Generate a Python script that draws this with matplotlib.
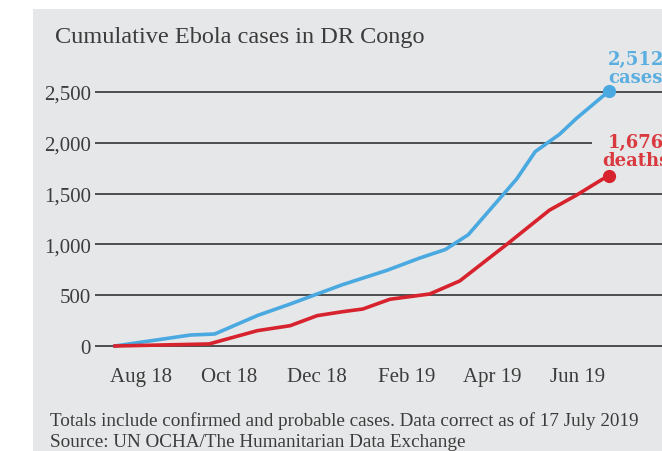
import matplotlib
matplotlib.use("Agg")
import matplotlib.pyplot as plt
import matplotlib.dates as mdates
import pandas as pd
from matplotlib.patches import Rectangle

# Cumulative cases
case_dates = ["2018-08-01", "2018-09-23", "2018-10-10", "2018-11-09", "2018-12-02",
              "2018-12-21", "2019-01-08", "2019-02-08", "2019-03-03", "2019-03-21",
              "2019-04-06", "2019-05-10", "2019-05-23", "2019-06-09", "2019-06-21",
              "2019-07-14"]
case_values = [0, 108, 118, 300, 413, 512, 605, 745, 866, 950, 1095, 1644, 1913,
               2083, 2241, 2512]

# Cumulative deaths
death_dates = ["2018-08-01", "2018-10-06", "2018-11-09", "2018-12-02", "2018-12-21",
               "2019-01-08", "2019-01-22", "2019-02-10", "2019-03-10", "2019-03-31",
               "2019-05-03", "2019-06-02", "2019-06-21", "2019-07-09", "2019-07-14"]
death_values = [0, 20, 151, 200, 299, 338, 364, 460, 512, 640, 1000, 1337, 1485,
                1640, 1676]

tick_dates = ["2018-08-19", "2018-10-20", "2018-12-21", "2019-02-22", "2019-04-23",
              "2019-06-22"]
tick_labels = ["Aug 18", "Oct 18", "Dec 18", "Feb 19", "Apr 19", "Jun 19"]
y_ticks = [0, 500, 1000, 1500, 2000, 2500]

title = "Cumulative Ebola cases in DR Congo"
note = ("Totals include confirmed and probable cases. Data correct as of 17 July 2019\n"
        "Source: UN OCHA/The Humanitarian Data Exchange")

BLUE = "#49a9e0"
RED = "#d7232d"
BG = "#e6e7e8"
INK = "#3c3c3c"
FONT = "Liberation Serif"
LABEL_FONT = "DejaVu Serif"

W, H = 662, 452
fig = plt.figure(figsize=(W / 100, H / 100), dpi=100)
fig.patch.set_facecolor("white")

# grey panel behind everything
fig.patches.append(Rectangle((33 / W, 0), 1 - 33 / W, 1 - 10 / H,
                             transform=fig.transFigure, facecolor=BG,
                             edgecolor="none", zorder=-5))

ax = fig.add_axes([95 / W, (H - 347) / H, (W - 95) / W, 254 / H])
ax.set_facecolor("none")
ax.set_zorder(1)
for s in ax.spines.values():
    s.set_visible(False)

cd = pd.to_datetime(case_dates)
dd = pd.to_datetime(death_dates)
start = pd.Timestamp("2018-08-01")
ax.set_xlim(start - pd.Timedelta(days=14), start + pd.Timedelta(days=384))
ax.set_ylim(0, 2500)

# gridlines; the 2,000 line stops short to leave room for the deaths label
x0, x1 = ax.get_xlim()
for v in y_ticks:
    end = x1 if v != 2000 else mdates.date2num(start) + (592 - 115) / 1.425
    ax.hlines(v, x0, end, color="#333333", lw=1.2, zorder=1, clip_on=False)

ax.plot(cd, case_values, color=BLUE, lw=2.6, solid_joinstyle="round", zorder=3,
        clip_on=False)
ax.plot(dd, death_values, color=RED, lw=2.6, solid_joinstyle="round", zorder=3,
        clip_on=False)
ax.plot(cd[-1:], case_values[-1:], "o", color=BLUE, ms=8.5, zorder=4, clip_on=False)
ax.plot(dd[-1:], death_values[-1:], "o", color=RED, ms=8.5, zorder=4, clip_on=False)

ax.annotate(f"{case_values[-1]:,}\ncases", (cd[-1], case_values[-1]),
            xytext=(19, 6.5), textcoords="offset points", ha="center", va="baseline",
            color="#5aaee0", fontsize=13, fontweight="bold", family=LABEL_FONT,
            linespacing=0.95, annotation_clip=False)
ax.annotate(f"{death_values[-1]:,}\ndeaths", (dd[-1], death_values[-1]),
            xytext=(19, 8), textcoords="offset points", ha="center", va="baseline",
            color="#d93a40", fontsize=13, fontweight="bold", family=LABEL_FONT,
            linespacing=0.95, annotation_clip=False)

ax.set_yticks(y_ticks)
ax.set_yticklabels([f"{v:,}" for v in y_ticks], family=FONT, fontsize=15, color=INK)
ax.set_xticks(pd.to_datetime(tick_dates))
ax.set_xticklabels(tick_labels, family=FONT, fontsize=15, color=INK)
ax.tick_params(axis="y", length=0, pad=3)
ax.tick_params(axis="x", length=0, pad=15)

fig.text(55 / W, 1 - 38 / H, title, family=FONT, fontsize=17.5, color=INK,
         ha="left", va="center")
fig.text(50 / W, 1 - 432 / H, note, family=FONT, fontsize=13.8, color=INK,
         ha="left", va="center", linespacing=1.3)

fig.savefig("out.png", dpi=100)
